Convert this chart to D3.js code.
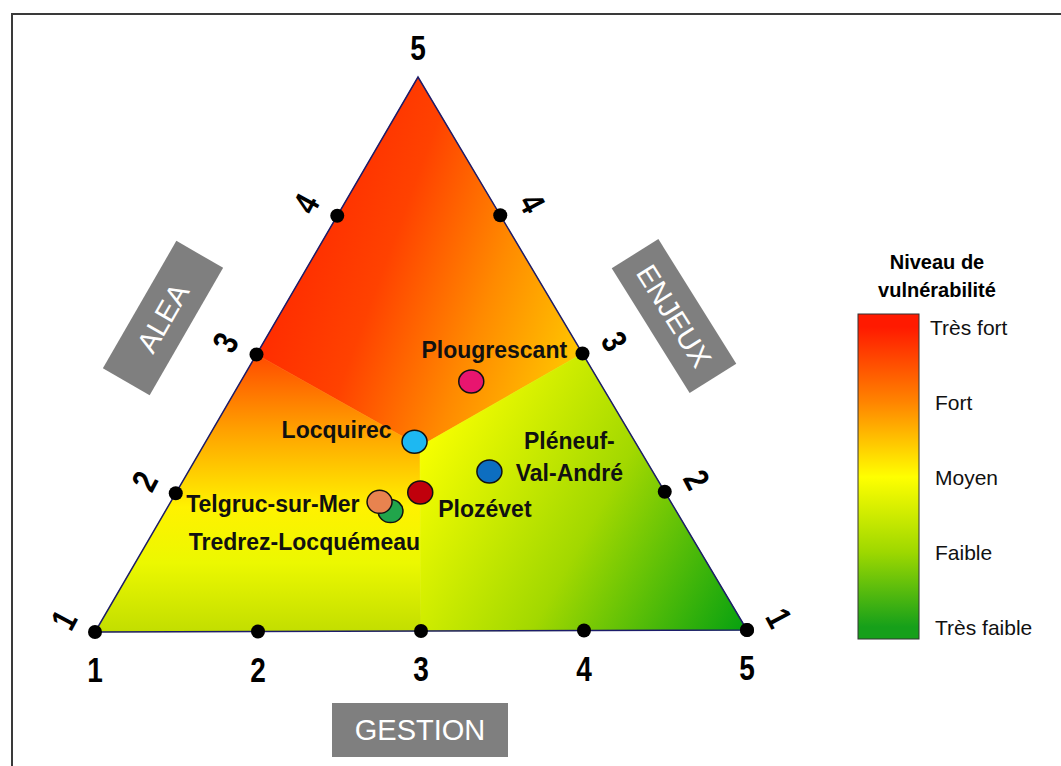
<!DOCTYPE html>
<html>
<head>
<meta charset="utf-8">
<script src="https://cdn.jsdelivr.net/npm/d3@7"></script>
<style>
  body { margin: 0; background: #fff; }
  svg { display: block; }
  text { font-family: "Liberation Sans", Arial, sans-serif; }
</style>
</head>
<body>
<svg width="1061" height="766"></svg>
<script>
// scores sur les trois axes (1 à 5)
const axisTicks = [1, 2, 3, 4, 5];
const communes = ["Plougrescant", "Locquirec", "Pléneuf-Val-André", "Plozévet", "Tredrez-Locquémeau", "Telgruc-sur-Mer"];
const alea = [3.7, 3.1, 2.6, 2.5, 2.3, 2.4];
const enjeux = [3.7, 3.0, 2.85, 2.5, 2.3, 2.4];
const gestion = [3.95, 2.85, 4.4, 3.0, 2.45, 2.25];
const levels = ["Très fort", "Fort", "Moyen", "Faible", "Très faible"];

const pointColors = ["#e8156f", "#1db8f2", "#0d6ec0", "#c0000c", "#21a54b", "#e8834f"];
const levelColors = ["#ff1a00", "#ff8400", "#ffff00", "#9ed800", "#16a01a"];

const svg = d3.select("svg");

// cadre
svg.append("rect")
  .attr("x", 12).attr("y", 14)
  .attr("width", 1100).attr("height", 800)
  .attr("fill", "none").attr("stroke", "#3a3a3a").attr("stroke-width", 2);

// sommets du triangle
const A = [95, 632], B = [747, 630], C = [418, 77];

const aleaScale = d3.scaleLinear().domain([1, 5]).range([A, C]);
const enjeuxScale = d3.scaleLinear().domain([1, 5]).range([B, C]);
const gestionScale = d3.scaleLinear().domain([1, 5]).range([A, B]);
const at = (s, v) => s(v).slice();

function position(a, e, g) {
  const p = [at(aleaScale, a), at(enjeuxScale, e), at(gestionScale, g)];
  return [d3.mean(p, d => d[0]), d3.mean(p, d => d[1])];
}

const center = position(3, 3, 3);
const L3 = at(aleaScale, 3), R3 = at(enjeuxScale, 3), G3 = at(gestionScale, 3);

const defs = svg.append("defs");
function linGrad(id, x1, y1, x2, y2, stops) {
  const g = defs.append("linearGradient").attr("id", id)
    .attr("gradientUnits", "userSpaceOnUse")
    .attr("x1", x1).attr("y1", y1).attr("x2", x2).attr("y2", y2);
  stops.forEach(s => g.append("stop").attr("offset", s[0]).attr("stop-color", s[1]));
}
linGrad("g-top", 255, 250, 595, 375, [[0, "#ff2400"], [0.35, "#ff4200"], [0.65, "#ff8a00"], [1, "#ffd200"]]);
linGrad("g-left", 0, L3[1], 0, A[1], [[0, "#ff4a00"], [0.27, "#ffa000"], [0.55, "#fff200"], [0.75, "#ecf800"], [1, "#c2de00"]]);
linGrad("g-right", center[0], center[1], B[0], B[1], [[0, "#f8ff00"], [0.5, "#a2d800"], [1, "#04a010"]]);

const line = d3.line();
const regions = [
  { pts: [L3, C, R3, center], fill: "url(#g-top)" },
  { pts: [A, L3, center, G3], fill: "url(#g-left)" },
  { pts: [G3, center, R3, B], fill: "url(#g-right)" }
];
svg.selectAll(".region").data(regions).join("path")
  .attr("class", "region")
  .attr("d", d => line(d.pts) + "Z")
  .attr("fill", d => d.fill)
  .attr("stroke", d => d.fill).attr("stroke-width", 0.6);

svg.append("path")
  .attr("d", line([A, B, C]) + "Z")
  .attr("fill", "none").attr("stroke", "#1c1c6a").attr("stroke-width", 1.5);

// graduations
const tickDots = [];
axisTicks.forEach(v => {
  tickDots.push(at(gestionScale, v));
  if (v > 1 && v < 5) { tickDots.push(at(aleaScale, v)); tickDots.push(at(enjeuxScale, v)); }
});
tickDots.push(at(enjeuxScale, 1));
svg.selectAll(".tick-dot").data(tickDots).join("ellipse")
  .attr("class", "tick-dot")
  .attr("cx", d => d[0]).attr("cy", d => d[1])
  .attr("rx", 7).attr("ry", 7).attr("fill", "#000");

// chiffres étroits (police type Calibri)
const tickText = svg.append("g")
  .attr("font-weight", "bold")
  .attr("font-size", 35).attr("fill", "#000").attr("text-anchor", "middle");

tickText.selectAll(".t-bottom").data(axisTicks).join("text")
  .attr("class", "t-bottom")
  .attr("transform", d => {
    const p = at(gestionScale, d);
    return `translate(${p[0]},${p[1] + 50}) scale(0.8,1)`;
  })
  .text(d => d);

tickText.append("text")
  .attr("transform", `translate(${C[0]},${C[1] - 17}) scale(0.8,1)`)
  .text(5);

tickText.selectAll(".t-left").data(axisTicks.slice(0, 4)).join("text")
  .attr("class", "t-left")
  .attr("dominant-baseline", "central")
  .attr("transform", d => {
    const p = at(aleaScale, d);
    return `translate(${p[0] - 31},${p[1] - 12}) rotate(-62) scale(0.8,1)`;
  })
  .text(d => d);

tickText.selectAll(".t-right").data(axisTicks.slice(0, 4)).join("text")
  .attr("class", "t-right")
  .attr("dominant-baseline", "central")
  .attr("transform", d => {
    const p = at(enjeuxScale, d);
    return `translate(${p[0] + 32},${p[1] - 12}) rotate(62) scale(0.8,1)`;
  })
  .text(d => d);

// titres d'axes
const axisBoxes = [
  { label: "ALEA", cx: 163, cy: 318, w: 147, h: 54, rot: -60 },
  { label: "ENJEUX", cx: 674, cy: 316, w: 147, h: 55, rot: 58 },
  { label: "GESTION", cx: 420, cy: 730, w: 176, h: 54, rot: 0 }
];
const box = svg.selectAll(".axis-box").data(axisBoxes).join("g")
  .attr("class", "axis-box")
  .attr("transform", d => `translate(${d.cx},${d.cy}) rotate(${d.rot})`);
box.append("rect")
  .attr("x", d => -d.w / 2).attr("y", d => -d.h / 2)
  .attr("width", d => d.w).attr("height", d => d.h)
  .attr("fill", "#7f7f7f");
box.append("text")
  .attr("text-anchor", "middle").attr("dominant-baseline", "central")
  .attr("font-size", 29).attr("fill", "#fff")
  .text(d => d.label);

// communes
const labelLayout = {
  "Plougrescant": { dx: 23, dy: -24, anchor: "middle" },
  "Locquirec": { dx: -23, dy: -4, anchor: "end" },
  "Pléneuf-Val-André": { dx: 80, dy: -23, anchor: "middle", lines: ["Pléneuf-", "Val-André"] },
  "Plozévet": { dx: 18, dy: 24, anchor: "start" },
  "Tredrez-Locquémeau": { dx: -86, dy: 39, anchor: "middle" },
  "Telgruc-sur-Mer": { dx: -20, dy: 10, anchor: "end" }
};

const pts = communes.map((name, i) => {
  const p = position(alea[i], enjeux[i], gestion[i]);
  return { name, x: p[0], y: p[1], color: pointColors[i] };
});

svg.selectAll(".commune").data(pts).join("ellipse")
  .attr("class", "commune")
  .attr("cx", d => d.x).attr("cy", d => d.y)
  .attr("rx", 12.5).attr("ry", 11.5)
  .attr("fill", d => d.color)
  .attr("stroke", "#111").attr("stroke-width", 1.5);

const labels = svg.selectAll(".commune-label").data(pts).join("text")
  .attr("class", "commune-label")
  .attr("font-size", 23).attr("font-weight", "bold").attr("fill", "#111")
  .attr("text-anchor", d => labelLayout[d.name].anchor)
  .attr("x", d => d.x + labelLayout[d.name].dx)
  .attr("y", d => d.y + labelLayout[d.name].dy);
labels.each(function (d) {
  const lay = labelLayout[d.name];
  const t = d3.select(this);
  if (lay.lines) {
    lay.lines.forEach((s, k) => {
      t.append("tspan").attr("x", d.x + lay.dx).attr("dy", k ? 32 : 0).text(s);
    });
  } else {
    t.text(d.name);
  }
});

// légende
const legY = d3.scalePoint().domain(levels).range([327, 627]);
const barTop = 314, barBottom = 639;
const lg = defs.append("linearGradient").attr("id", "g-legend")
  .attr("x1", 0).attr("y1", 0).attr("x2", 0).attr("y2", 1);
levels.forEach((l, i) => {
  lg.append("stop")
    .attr("offset", (legY(l) - barTop) / (barBottom - barTop))
    .attr("stop-color", levelColors[i]);
});
svg.append("rect")
  .attr("x", 858).attr("y", barTop)
  .attr("width", 61).attr("height", barBottom - barTop)
  .attr("fill", "url(#g-legend)").attr("stroke", "#333").attr("stroke-width", 1);

svg.append("text")
  .attr("x", 937).attr("y", 269)
  .attr("text-anchor", "middle").attr("font-size", 20).attr("font-weight", "bold")
  .selectAll("tspan").data(["Niveau de", "vulnérabilité"]).join("tspan")
  .attr("x", 937).attr("dy", (d, i) => i ? 28 : 0)
  .text(d => d);

svg.selectAll(".lev").data(levels).join("text")
  .attr("class", "lev")
  .attr("x", (d, i) => i ? 935 : 930)
  .attr("y", d => legY(d))
  .attr("dominant-baseline", "central")
  .attr("font-size", 21).attr("fill", "#111")
  .text(d => d);
</script>
</body>
</html>
